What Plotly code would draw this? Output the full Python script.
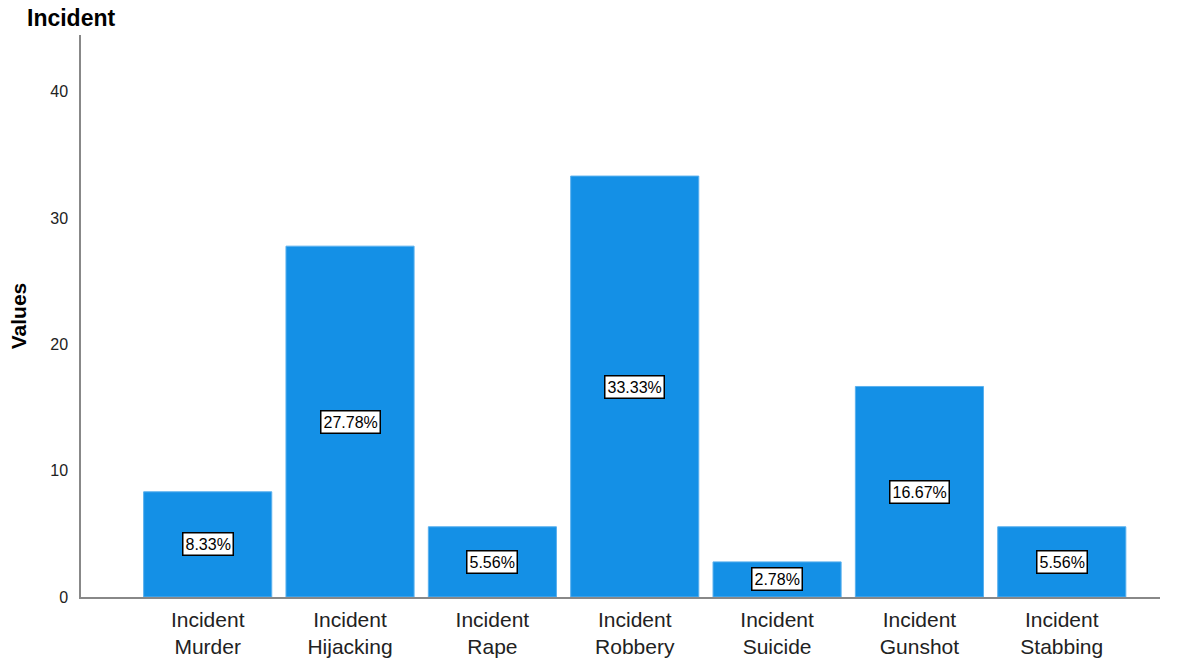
import plotly.graph_objects as go

categories = ["Incident<br>Murder", "Incident<br>Hijacking", "Incident<br>Rape", "Incident<br>Robbery",
              "Incident<br>Suicide", "Incident<br>Gunshot", "Incident<br>Stabbing"]
values = [8.33, 27.78, 5.56, 33.33, 2.78, 16.67, 5.56]
labels = ["8.33%", "27.78%", "5.56%", "33.33%", "2.78%", "16.67%", "5.56%"]
y_ticks = [0, 10, 20, 30, 40]

fig = go.Figure()
fig.add_trace(go.Bar(
    x=list(range(len(categories))), y=values, width=0.9,
    marker=dict(color="#1490E6", line=dict(color="#5AB0EE", width=1)),
    hoverinfo="skip",
))

for i, (v, t) in enumerate(zip(values, labels)):
    fig.add_annotation(
        x=i, y=v / 2, text=t, showarrow=False,
        font=dict(family="Liberation Sans, Arial, sans-serif", size=16, color="#000000"),
        bgcolor="white", bordercolor="#000000", borderwidth=1.5, borderpad=2,
    )

fig.update_layout(
    width=1186, height=661,
    margin=dict(l=81, r=26, t=35, b=64, autoexpand=False),
    paper_bgcolor="white", plot_bgcolor="white",
    showlegend=False,
    font=dict(family="Liberation Sans, Arial, sans-serif"),
    title=dict(
        text="<b>Incident</b>", xref="container", yref="container",
        x=27 / 1186, y=1 - 18 / 661, xanchor="left", yanchor="middle",
        font=dict(size=23, color="#000000"),
    ),
    xaxis=dict(
        range=[-0.89, 6.69], automargin=False,
        tickmode="array", tickvals=list(range(len(categories))), ticktext=categories,
        tickfont=dict(size=21, color="#222222"), ticklabelstandoff=3,
        showline=True, linecolor="#888888", linewidth=1.5,
        showgrid=False, zeroline=False, ticks="",
    ),
    yaxis=dict(
        range=[0, 44.5], automargin=False,
        tickmode="array", tickvals=y_ticks,
        tickfont=dict(size=16, color="#222222"),
        showline=True, linecolor="#888888", linewidth=1.5,
        showgrid=False, zeroline=False, ticks="", ticklabelstandoff=8,
        title=dict(text="<b>Values</b>", font=dict(size=21, color="#000000"), standoff=18),
    ),
)

fig.write_html("out.html")
